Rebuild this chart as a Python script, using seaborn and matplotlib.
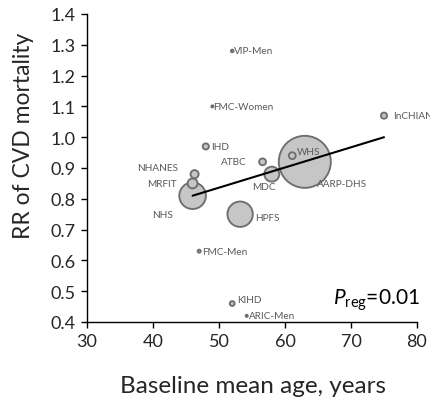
import numpy as np
import pandas as pd
import seaborn as sns
import matplotlib.pyplot as plt

# study-level data (ordered large -> small so small circles sit on top)
studies = ['AARP-DHS', 'NHS', 'HPFS', 'MDC', 'MRFIT', 'NHANES', 'ATBC', 'WHS',
           'IHD', 'InCHIANTI', 'KIHD', 'FMC-Men', 'VIP-Men', 'FMC-Women', 'ARIC-Men']
mean_age = [63, 46, 53.2, 58, 46, 46.3, 56.6, 61.1, 48, 75, 52, 47, 52, 49, 54.2]
rr_cvd = [0.92, 0.81, 0.75, 0.88, 0.85, 0.88, 0.92, 0.94, 0.97, 1.07, 0.46, 0.63, 1.28, 1.10, 0.42]
weight_pct = [58, 15.2, 13.8, 4.8, 2.1, 1.4, 1.0, 1.0, 0.8, 0.8, 0.5, 0.2, 0.15, 0.1, 0.1]

# meta-regression line
reg_slope = 0.00655
reg_intercept = 0.5087
p_reg = '0.01'

df = pd.DataFrame({'study': studies, 'age': mean_age, 'rr': rr_cvd, 'w': weight_pct})

# label offsets in pixels (dx, dy, ha)
label_pos = {
    'AARP-DHS': (12, -22, 'left'),
    'NHS': (-20, -19, 'right'),
    'HPFS': (15, -3, 'left'),
    'MDC': (-8, -12, 'center'),
    'MRFIT': (-16, 0, 'right'),
    'NHANES': (-16, 7, 'right'),
    'ATBC': (-16, 0, 'right'),
    'WHS': (5, 4, 'left'),
    'IHD': (5, 0, 'left'),
    'InCHIANTI': (9, 0, 'left'),
    'KIHD': (5, 4, 'left'),
    'FMC-Men': (3, 0, 'left'),
    'VIP-Men': (2, 0, 'left'),
    'FMC-Women': (1, 0, 'left'),
    'ARIC-Men': (2, 0, 'left'),
}

sns.set_style('ticks')
plt.rcParams['font.family'] = ['Lato', 'DejaVu Sans']
plt.rcParams['mathtext.fontset'] = 'custom'
plt.rcParams['mathtext.rm'] = 'Lato'
plt.rcParams['mathtext.it'] = 'Lato:italic'

fig = plt.figure(figsize=(4.31, 4.02), dpi=100)
ax = fig.add_axes([87 / 431, 1 - 323 / 402, 330 / 431, 308 / 402])

k = 24.2
sns.scatterplot(data=df, x='age', y='rr', size='w',
                sizes=(min(weight_pct) * k, max(weight_pct) * k),
                size_norm=(min(weight_pct), max(weight_pct)),
                color='#c6c6c6', edgecolor='#6e6e6e', linewidth=1.35,
                legend=False, ax=ax, zorder=2)

xs = np.array([min(mean_age), max(mean_age)])
sns.lineplot(x=xs, y=reg_intercept + reg_slope * xs, color='black', lw=1.5, ax=ax, zorder=3)

for _, row in df.iterrows():
    dx, dy, ha = label_pos[row['study']]
    ax.annotate(row['study'], (row['age'], row['rr']), xytext=(dx * 0.72, dy * 0.72),
                textcoords='offset points', ha=ha, va='center', fontsize=7.2,
                color='#595959', zorder=4, annotation_clip=False)

ax.text(0.745, 0.058, r'$P_{\rm reg}$=' + p_reg, transform=ax.transAxes,
        fontsize=15, color='black')

ax.set_xlim(30, 80)
ax.set_ylim(0.4, 1.4)
ax.set_xticks(range(30, 81, 10))
ax.set_yticks(np.arange(0.4, 1.41, 0.1))
ax.set_yticklabels([f'{v:.1f}' for v in np.arange(0.4, 1.41, 0.1)])
ax.tick_params(labelsize=13, length=4.5, width=1, colors='black', labelcolor='#262626')
for s in ['left', 'bottom']:
    ax.spines[s].set_linewidth(1)
    ax.spines[s].set_color('black')
sns.despine(ax=ax)
ax.set_xlabel('Baseline mean age, years', fontsize=17.5, color='#262626')
ax.set_ylabel('RR of CVD mortality', fontsize=16.5, color='#262626')
ax.xaxis.set_label_coords(0.503, -0.172)
ax.yaxis.set_label_coords(-0.16, 0.607)

fig.savefig('out.png', dpi=100)
